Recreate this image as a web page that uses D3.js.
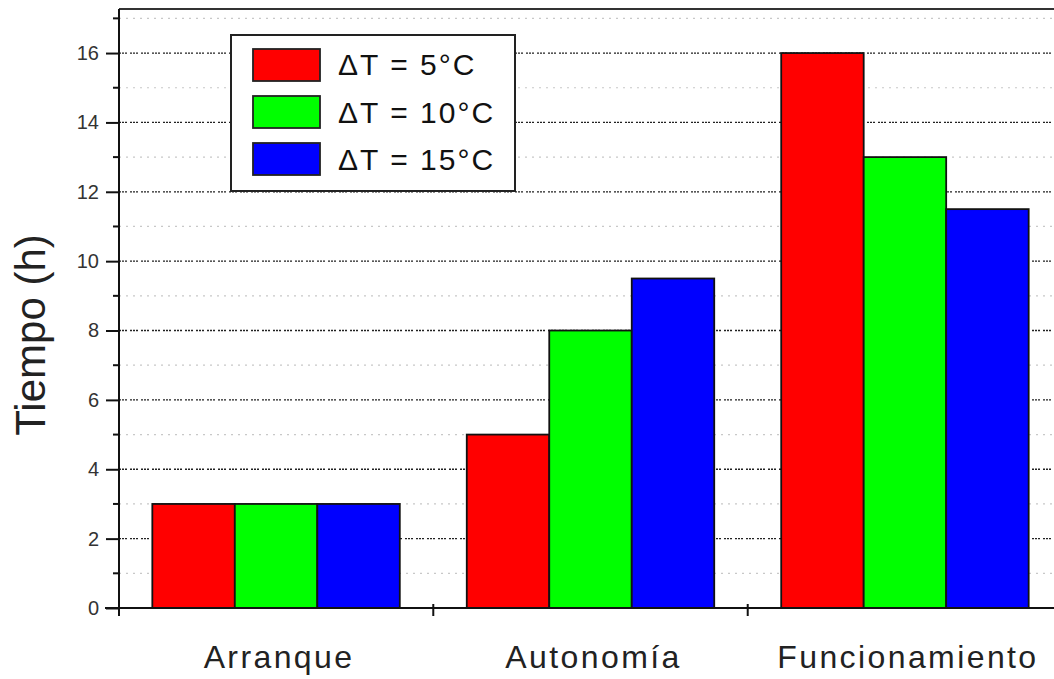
<!DOCTYPE html>
<html><head><meta charset="utf-8">
<script src="https://cdn.jsdelivr.net/npm/d3@7"></script>
<style>body{margin:0;background:#fff}svg{display:block}</style>
</head><body>
<svg id="c" width="1054" height="679"></svg>
<script>
const categories = ["Arranque", "Autonomía", "Funcionamiento"];
const seriesNames = ["ΔT = 5°C", "ΔT = 10°C", "ΔT = 15°C"];
const seriesColors = ["#ff0000", "#00ff00", "#0000ff"];
const dT5 = [3, 5, 16];
const dT10 = [3, 8, 13];
const dT15 = [3, 9.5, 11.5];
const series = [dT5, dT10, dT15];
const majorTicks = [0, 2, 4, 6, 8, 10, 12, 14, 16];
const minorTicks = [1, 3, 5, 7, 9, 11, 13, 15, 17];

const svg = d3.select("#c");
const L = 119, R = 1062, T = 9, B = 608;
const font = "'Liberation Sans', Arial, sans-serif";

const y = d3.scaleLinear().domain([0, 17.27]).range([B, T]);
const x0 = d3.scaleBand().domain(categories).range([L, R]).paddingInner(0.213).paddingOuter(0.106);
const x1 = d3.scaleBand().domain(d3.range(3)).range([0, x0.bandwidth()]).padding(0);

// gridlines
svg.append("g").selectAll("line").data(minorTicks).join("line")
  .attr("x1", L).attr("x2", 1054).attr("y1", d => y(d)).attr("y2", d => y(d))
  .attr("stroke", "#c8c8c8").attr("stroke-width", 1.2).attr("stroke-dasharray", "2,5");
svg.append("g").selectAll("line").data(majorTicks.filter(d => d > 0)).join("line")
  .attr("x1", L).attr("x2", 1054).attr("y1", d => y(d)).attr("y2", d => y(d))
  .attr("stroke", "#222").attr("stroke-width", 1.3).attr("stroke-dasharray", "2,1,2,1,2,3");

// bars
const bars = [];
categories.forEach((c, i) => series.forEach((s, j) => bars.push({c, j, v: s[i]})));
svg.append("g").selectAll("rect").data(bars).join("rect")
  .attr("x", d => x0(d.c) + x1(d.j))
  .attr("y", d => y(d.v))
  .attr("width", x1.bandwidth())
  .attr("height", d => y(0) - y(d.v))
  .attr("fill", d => seriesColors[d.j])
  .attr("stroke", "#111").attr("stroke-width", 1.8);

// top frame
svg.append("line").attr("x1", L).attr("x2", 1054).attr("y1", T).attr("y2", T)
  .attr("stroke", "#333").attr("stroke-width", 2);

// y axis
const yAxis = d3.axisLeft(y).tickValues(majorTicks).tickSize(13).tickPadding(7);
const gy = svg.append("g").attr("transform", `translate(${L},0)`).call(yAxis);
gy.select(".domain").remove();
gy.selectAll(".tick line").attr("stroke", "#111").attr("stroke-width", 2);
gy.selectAll(".tick text").attr("font-family", font).attr("font-size", 20).attr("fill", "#333");
svg.append("g").selectAll("line").data(minorTicks).join("line")
  .attr("x1", L - 6).attr("x2", L).attr("y1", d => y(d)).attr("y2", d => y(d))
  .attr("stroke", "#111").attr("stroke-width", 2);
svg.append("line").attr("x1", L).attr("x2", L).attr("y1", T).attr("y2", B + 8)
  .attr("stroke", "#111").attr("stroke-width", 2);

// x axis
svg.append("line").attr("x1", L - 14).attr("x2", 1054).attr("y1", B).attr("y2", B)
  .attr("stroke", "#111").attr("stroke-width", 2);
const boundaries = categories.slice(1).map(c => x0(c) - x0.step() * x0.paddingInner() / 2);
svg.append("g").selectAll("line").data(boundaries).join("line")
  .attr("x1", d => d).attr("x2", d => d).attr("y1", B - 4).attr("y2", B + 8)
  .attr("stroke", "#111").attr("stroke-width", 2);
svg.append("g").selectAll("text").data(categories).join("text")
  .attr("x", d => x0(d) + x0.bandwidth() / 2 + 3).attr("y", 668)
  .attr("text-anchor", "middle").attr("font-family", font).attr("font-size", 32)
  .attr("letter-spacing", "2.4px").attr("fill", "#222")
  .text(d => d);

// y title
svg.append("text").attr("transform", "translate(45,335) rotate(-90)")
  .attr("text-anchor", "middle").attr("font-family", font).attr("font-size", 42).attr("fill", "#222")
  .text("Tiempo (h)");

// legend
const lg = svg.append("g");
lg.append("rect").attr("x", 231).attr("y", 35).attr("width", 284).attr("height", 156)
  .attr("fill", "#fff").attr("stroke", "#222").attr("stroke-width", 2);
seriesNames.forEach((n, i) => {
  lg.append("rect").attr("x", 253).attr("y", 49 + i * 47).attr("width", 67).attr("height", 32)
    .attr("fill", seriesColors[i]).attr("stroke", "#222").attr("stroke-width", 1.8);
  lg.append("text").attr("x", 338).attr("y", 75 + i * 47.5)
    .attr("font-family", font).attr("font-size", 30).attr("letter-spacing", "2px")
    .attr("fill", "#111").text(n);
});
</script>
</body></html>
